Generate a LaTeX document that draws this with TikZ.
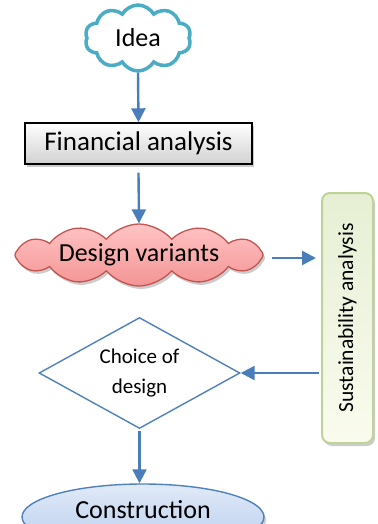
\documentclass[tikz,border=0pt]{standalone}
\usepackage{fontspec}
\setmainfont{Carlito}
\usetikzlibrary{shapes.symbols,shapes.geometric,arrows.meta,shadows}

\definecolor{arrowblue}{RGB}{74,126,187}
\definecolor{ideateal}{RGB}{75,172,198}
\definecolor{cloudred}{RGB}{196,84,80}
\definecolor{cloudtop}{RGB}{255,196,196}
\definecolor{cloudbot}{RGB}{244,148,148}
\definecolor{leafline}{RGB}{190,212,150}
\definecolor{leaftop}{RGB}{230,239,212}
\definecolor{leafbot}{RGB}{250,251,238}
\definecolor{steel}{RGB}{79,129,189}
\definecolor{skytop}{RGB}{224,234,248}
\definecolor{skybot}{RGB}{184,205,236}

\tikzset{
  arr/.style={draw=arrowblue, line width=2.4pt, -{Triangle[width=14pt,length=14pt]}},
  softshadow/.style={drop shadow={shadow xshift=2pt, shadow yshift=-3pt, fill=black!40, opacity=0.5}},
  ideacloud/.style={cloud, cloud puffs=10, cloud puff arc=120, cloud ignores aspect,
    draw=ideateal, line width=3.5pt, fill=white, inner sep=0pt,
    minimum width=106pt, minimum height=66pt, font=\fontsize{26}{30}\selectfont},
  finbox/.style={rectangle, draw=black, line width=1.4pt, top color=white, bottom color=black!18,
    softshadow, minimum width=227pt, minimum height=41pt, inner sep=0pt,
    font=\fontsize{27}{30}\selectfont},
  variantcloud/.style={cloud, cloud puffs=12, cloud puff arc=100, cloud ignores aspect,
    draw=cloudred, line width=1.3pt, top color=cloudtop, bottom color=cloudbot, softshadow,
    minimum width=248pt, minimum height=62pt, inner sep=0pt,
    font=\fontsize{26}{30}\selectfont},
  sustbox/.style={rectangle, rounded corners=8pt, draw=leafline, line width=2pt,
    top color=leaftop, bottom color=leafbot, softshadow,
    minimum width=51pt, minimum height=250pt, inner sep=0pt,
    font=\fontsize{21.5}{24}\selectfont},
  choice/.style={diamond, draw=steel, line width=1.4pt, fill=white, aspect=2, inner sep=0pt,
    minimum width=201pt, minimum height=111pt, align=center,
    font=\fontsize{21}{30}\selectfont},
  endpoint/.style={ellipse, draw=steel, line width=1.4pt, top color=skytop, bottom color=skybot,
    softshadow, minimum width=242pt, minimum height=66pt, inner sep=0pt, text depth=15pt,
    font=\fontsize{26}{30}\selectfont},
}

\begin{document}
\begin{tikzpicture}[x=1pt, y=-1pt]
  \useasboundingbox (0,0) rectangle (377,524);

  \node[ideacloud]    (idea)  at (138,38)    {Idea};
  \node[finbox]       (fin)   at (138.5,143.5) {Financial analysis};
  \node[variantcloud] (dv)    at (139,255)   {Design variants};
  \node[sustbox]      (sust)  at (347.5,318) {\rotatebox{90}{Sustainability analysis}};
  \node[choice]       (dia)   at (139.5,373) {Choice of\\design};
  \node[endpoint]     (cons)  at (143,517)   {Construction};

  \draw[arr] (idea.south) -- (fin.north);
  \draw[arr] ([yshift=-8pt]fin.south) -- (dv.north);
  \draw[arr] ([xshift=8pt,yshift=-3pt]dv.east) -- ([xshift=-5pt,yshift=-3pt]sust.west |- dv.east);
  \draw[arr] ([xshift=-2pt]sust.west |- dia.east) -- (dia.east);
  \draw[arr] ([yshift=-2pt]dia.south) -- (cons.north -| dia.south);
\end{tikzpicture}
\end{document}
